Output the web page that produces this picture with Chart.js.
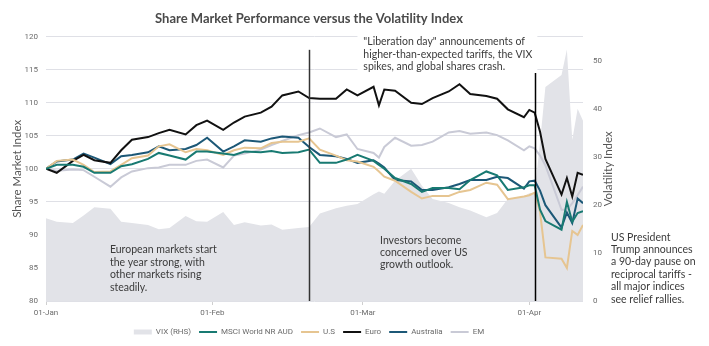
<!DOCTYPE html>
<html>
<head>
<meta charset="utf-8">
<script src="https://cdn.jsdelivr.net/npm/chart.js@4/dist/chart.umd.min.js"></script>
<style>
  html, body { margin: 0; padding: 0; background: #fff; }
  #wrap { width: 709px; height: 346px; }
</style>
</head>
<body>
<div id="wrap"><canvas id="chart" width="709" height="346"></canvas></div>
<script>
// trading days shown on the chart (2025)
const dates = [
  '2025-01-01', '2025-01-03', '2025-01-06', '2025-01-08', '2025-01-10', '2025-01-13', '2025-01-15',
  '2025-01-17', '2025-01-20', '2025-01-22', '2025-01-24', '2025-01-27', '2025-01-29', '2025-01-31',
  '2025-02-03', '2025-02-05', '2025-02-07', '2025-02-10', '2025-02-12', '2025-02-14', '2025-02-17',
  '2025-02-19', '2025-02-21', '2025-02-24', '2025-02-26', '2025-02-28', '2025-03-03', '2025-03-04',
  '2025-03-05', '2025-03-07', '2025-03-10', '2025-03-12', '2025-03-14', '2025-03-17', '2025-03-19',
  '2025-03-21', '2025-03-24', '2025-03-26', '2025-03-28', '2025-03-31', '2025-04-01', '2025-04-02',
  '2025-04-03', '2025-04-04', '2025-04-07', '2025-04-08', '2025-04-09', '2025-04-10', '2025-04-11'
];

// share indices rebased to 100 at 1 Jan
const msciWorld = [
  100.0, 100.6, 100.6, 100.3, 99.4, 99.4, 100.4, 100.7, 101.5, 102.4, 102.0, 101.4, 102.6, 102.6,
  102.3, 102.1, 102.6, 102.5, 102.7, 102.4, 102.5, 102.9, 100.9, 100.9, 101.4, 102.1, 101.2, 100.6,
  100.0, 98.6, 97.7, 96.5, 97.1, 97.1, 96.9, 98.3, 99.6, 99.0, 96.8, 97.2, 97.5, 97.5,
  93.8, 92.1, 90.8, 95.0, 92.0, 93.3, 93.6
];
const usShares = [
  100.0, 101.2, 101.4, 100.6, 99.5, 99.6, 100.6, 101.6, 102.0, 103.4, 103.7, 102.5, 103.0, 102.8,
  102.1, 102.8, 103.2, 103.1, 103.9, 104.1, 104.1, 104.6, 102.9, 102.0, 101.3, 101.1, 100.3, 99.6,
  98.8, 98.2, 96.5, 95.5, 95.9, 95.9, 96.5, 96.8, 97.9, 97.6, 95.4, 95.8, 96.0, 96.4,
  93.5, 86.6, 86.4, 85.0, 90.6, 90.0, 91.5
];
const euroShares = [
  100.0, 99.4, 101.2, 102.1, 101.3, 100.9, 102.8, 104.4, 104.8, 105.4, 105.9, 105.2, 106.6, 107.3,
  105.9, 107.0, 107.9, 108.5, 109.4, 111.1, 111.7, 110.7, 110.6, 110.6, 112.0, 111.1, 112.4, 109.6,
  112.0, 111.8, 110.0, 109.8, 110.7, 111.7, 112.8, 111.3, 111.0, 110.6, 109.0, 107.8, 108.9, 108.5,
  105.6, 101.5, 96.1, 98.6, 95.8, 99.4, 99.1
];
const ausShares = [
  100.0, 101.1, 101.4, 102.3, 101.7, 100.7, 101.9, 102.1, 102.5, 103.4, 102.8, 103.0, 103.6, 104.7,
  102.6, 103.4, 104.3, 104.1, 104.6, 104.9, 104.7, 103.3, 102.1, 101.9, 101.5, 100.9, 101.3, 100.8,
  100.2, 98.3, 98.1, 96.8, 96.8, 97.2, 97.7, 98.3, 98.3, 98.8, 98.6, 97.0, 98.1, 98.2,
  96.7, 94.5, 91.1, 93.4, 91.8, 95.5, 94.8
];
const emShares = [
  100.0, 99.7, 99.9, 99.8, 98.8, 97.3, 98.7, 99.6, 100.1, 100.2, 100.6, 100.6, 101.2, 101.4,
  100.2, 102.0, 102.3, 102.9, 103.6, 104.2, 105.1, 105.5, 106.1, 104.8, 105.2, 103.0, 102.4, 101.7,
  103.3, 104.7, 103.5, 103.6, 104.1, 105.5, 105.7, 105.3, 105.5, 105.1, 104.3, 102.8, 103.4, 103.1,
  102.0, 100.5, 93.8, 93.8, 94.8, 96.0, 97.3
];
// CBOE volatility index, right-hand axis
const vix = [
  17.2, 16.5, 16.2, 17.8, 19.5, 19.2, 16.5, 16.2, 15.8, 14.9, 15.2, 17.7, 16.6, 16.5,
  18.5, 15.8, 16.4, 15.7, 15.9, 14.8, 15.2, 15.4, 18.2, 19.3, 19.8, 20.2, 22.2, 22.8,
  22.3, 25.0, 27.5, 24.0, 21.2, 20.4, 19.5, 18.8, 17.4, 18.3, 21.2, 21.8, 22.4, 22.5,
  33.0, 44.5, 47.0, 52.3, 33.5, 40.0, 37.5
];

const monthTicks = ['2025-01-01', '2025-02-01', '2025-03-01', '2025-04-01'];
const monthLabels = ['01-Jan', '01-Feb', '01-Mar', '01-Apr'];
const indexTicks = [80, 85, 90, 95, 100, 105, 110, 115, 120];
const vixTicks = [0, 10, 20, 30, 40, 50];

// market peak and "Liberation day"
const eventDates = ['2025-02-19', '2025-04-02'];

const START = Date.parse('2025-01-01');
const dayOf = d => (Date.parse(d) - START) / 864e5;
const points = values => values.map((v, i) => ({ x: dayOf(dates[i]), y: v }));

const TEXT = '#3b3b3b';
const AXIS = '#6b6b6b';
const noteFont = '10.5px Lato';

const notes = [
  { day: 11.9, value: 87.7, lines: ['European markets start', 'the year strong, with', 'other markets rising', 'steadily.'] },
  { day: 62.2, value: 89.2, lines: ['Investors become', 'concerned over US', 'growth outlook.'] },
  { day: 59.1, value: 119.2, lines: ['"Liberation day" announcements of', 'higher-than-expected tariffs, the VIX', 'spikes, and global shares crash.'],
    box: { from: 58, to: 91.5, top: 120.6, bottom: 114.5 } },
  { outside: 28, value: 89.65, lines: ['US President', 'Trump announces', 'a 90-day pause on', 'reciprocal tariffs -', 'all major indices', 'see relief rallies.'] }
];
const eventTops = [118, 114.5];

const annotations = {
  id: 'annotations',
  afterDatasetsDraw(chart) {
    const { ctx, chartArea: area, scales: { x, y } } = chart;
    ctx.save();

    eventDates.forEach((d, i) => {
      const px = Math.round(x.getPixelForValue(dayOf(d))) + 0.5;
      ctx.strokeStyle = i === 0 ? '#333' : '#000';
      ctx.lineWidth = 1.5;
      ctx.beginPath();
      ctx.moveTo(px, y.getPixelForValue(eventTops[i]));
      ctx.lineTo(px, area.bottom);
      ctx.stroke();
    });

    ctx.font = noteFont;
    ctx.textBaseline = 'middle';
    ctx.textAlign = 'left';
    notes.forEach(n => {
      if (n.box) {
        const l = x.getPixelForValue(n.box.from), r = x.getPixelForValue(n.box.to);
        const t = y.getPixelForValue(n.box.top), b = y.getPixelForValue(n.box.bottom);
        ctx.fillStyle = '#fff';
        ctx.fillRect(l, t, r - l, b - t);
      }
      const px = n.outside !== undefined ? area.right + n.outside : x.getPixelForValue(n.day);
      const py = y.getPixelForValue(n.value);
      ctx.fillStyle = TEXT;
      n.lines.forEach((line, i) => ctx.fillText(line, px, py + i * 12.4));
    });

    // right axis title reads bottom-to-top like the left one
    ctx.translate(area.right + 25, (area.top + area.bottom) / 2);
    ctx.rotate(-Math.PI / 2);
    ctx.textAlign = 'center';
    ctx.font = '11.5px Lato';
    ctx.fillStyle = '#555';
    ctx.fillText('Volatility Index', 0, 0);
    ctx.restore();
  }
};

const line = (label, values, color) => ({
  label,
  data: points(values),
  yAxisID: 'y',
  borderColor: color,
  backgroundColor: color,
  borderWidth: 2,
  pointStyle: 'line',
  pointBorderWidth: 2,
  pointRadius: 0,
  fill: false
});

new Chart(document.getElementById('chart'), {
  type: 'line',
  data: {
    datasets: [
      {
        label: 'VIX (RHS)',
        data: points(vix),
        yAxisID: 'vix',
        fill: 'origin',
        backgroundColor: '#e2e3e8',
        borderColor: '#e2e3e8',
        borderWidth: 0,
        pointStyle: 'rect',
        pointBorderWidth: 0,
        pointRadius: 0
      },
      line('MSCI World NR AUD', msciWorld, '#187a72'),
      line('U.S', usShares, '#e6c591'),
      line('Euro', euroShares, '#111111'),
      line('Australia', ausShares, '#1c5877'),
      line('EM', emShares, '#c9cad6')
    ]
  },
  options: {
    responsive: false,
    animation: false,
    events: [],
    layout: { padding: { right: 91 } },
    scales: {
      x: {
        type: 'linear',
        min: 0,
        max: 100,
        afterBuildTicks: s => { s.ticks = monthTicks.map(d => ({ value: dayOf(d) })); },
        afterFit: s => { s.height = 19; },
        ticks: {
          callback: v => monthLabels[monthTicks.findIndex(d => dayOf(d) === v)],
          font: { family: 'Roboto', size: 8 },
          color: AXIS,
          padding: 3,
          maxRotation: 0,
          autoSkip: false
        },
        grid: { drawOnChartArea: false, tickLength: 4, color: '#cfcfcf' },
        border: { display: false }
      },
      y: {
        position: 'left',
        min: 80,
        max: 120,
        afterBuildTicks: s => { s.ticks = indexTicks.map(v => ({ value: v })); },
        afterFit: s => { s.width = 46; },
        ticks: { font: { family: 'Roboto', size: 8 }, color: AXIS, padding: 8 },
        grid: { color: '#dfe0e6', drawTicks: false },
        border: { display: false },
        title: {
          display: true,
          text: 'Share Market Index',
          font: { family: 'Lato', size: 11.5 },
          color: '#555',
          padding: { top: 10, bottom: 0 }
        }
      },
      vix: {
        position: 'right',
        min: 0,
        max: 55,
        afterBuildTicks: s => { s.ticks = vixTicks.map(v => ({ value: v })); },
        afterFit: s => { s.width = 35; },
        ticks: { font: { family: 'Roboto', size: 8 }, color: AXIS, padding: 10 },
        grid: { drawOnChartArea: false, drawTicks: false },
        border: { display: false }
      }
    },
    plugins: {
      filler: { drawTime: 'beforeDatasetsDraw' },
      tooltip: { enabled: false },
      title: {
        display: true,
        text: 'Share Market Performance versus the Volatility Index',
        color: '#4a4a4a',
        font: { family: 'Lato', size: 13, weight: 'bold' },
        padding: { top: 11, bottom: 10 }
      },
      legend: {
        position: 'bottom',
        labels: {
          usePointStyle: true,
          pointStyleWidth: 18,
          boxHeight: 5,
          padding: 8,
          color: AXIS,
          font: { family: 'Roboto', size: 8 }
        }
      }
    }
  },
  plugins: [annotations]
});
</script>
</body>
</html>
